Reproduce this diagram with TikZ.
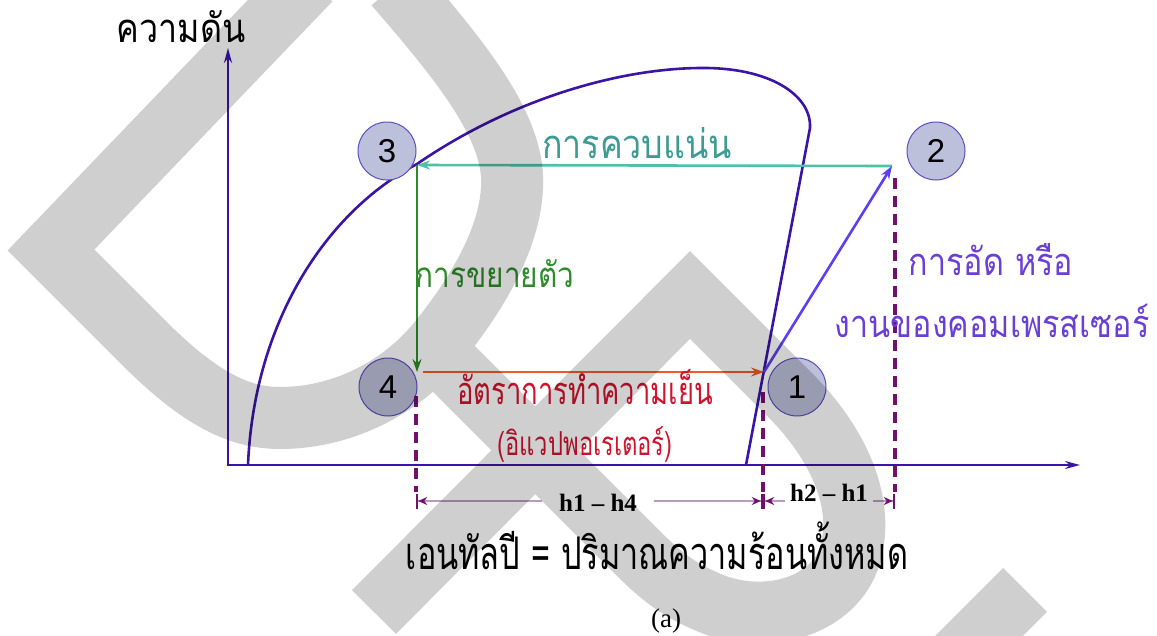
\documentclass[tikz,border=0pt]{standalone}
\usepackage{fontspec}
\setmainfont{Liberation Serif}
\setsansfont{Liberation Sans}
\newfontfamily\thaifont[Script=Thai, FakeStretch=0.85]{Loma}
\newfontfamily\thainarrow[Script=Thai, FakeStretch=0.72]{Loma}
\usetikzlibrary{arrows.meta, positioning}

\definecolor{axisblue}{HTML}{3A14A6}
\definecolor{circfill}{HTML}{BDC0DA}
\definecolor{circedge}{HTML}{5B4FBF}
\definecolor{condline}{HTML}{4DC0A6}
\definecolor{condtext}{HTML}{3E9A92}
\definecolor{expgreen}{HTML}{2E8B2A}
\definecolor{compline}{HTML}{5A40F2}
\definecolor{comptext}{HTML}{6A3FD6}
\definecolor{evapline}{HTML}{F05A28}
\definecolor{evaptext}{HTML}{D0142E}
\definecolor{dashpurple}{HTML}{72106E}
\definecolor{dimline}{HTML}{B59CC0}
\definecolor{wmgrey}{HTML}{CFCFCF}

\begin{document}
\begin{tikzpicture}[x=1pt, y=-1pt,
    axis/.style={draw=axisblue, line width=2.2pt, {Stealth[length=15pt, width=8pt]}-{Stealth[length=15pt, width=8pt]}},
    dome/.style={draw=axisblue, line width=2.6pt},
    numc/.style={circle, draw=circedge, line width=1pt, fill=circfill, minimum size=58pt,
                 inner sep=0pt, font=\sffamily\fontsize{33}{33}\selectfont},
    arr/.style={-{Stealth[length=13pt, width=9pt]}, line width=2.6pt},
    thai/.style={font=\thaifont\fontsize{#1}{#1}\selectfont, inner sep=0pt, anchor=base},
    thain/.style={font=\thainarrow\fontsize{#1}{#1}\selectfont, inner sep=0pt, anchor=base},
    dsh/.style={draw=dashpurple, line width=3.2pt, dash pattern=on 11pt off 7pt},
    dim/.style={draw=dimline, line width=1.6pt},
    tipL/.style={{Bar[width=15pt, line width=2.2pt, color=dashpurple] Stealth[length=9pt, width=8pt, color=dashpurple]}-},
    tipR/.style={-{Stealth[length=9pt, width=8pt, color=dashpurple] Bar[width=15pt, line width=2.2pt, color=dashpurple]}},
    dimlbl/.style={font=\bfseries\fontsize{25}{25}\selectfont, inner ysep=0pt},
    wm/.style={draw=wmgrey, line width=62pt, line join=miter, line cap=butt, miter limit=10}
]
\useasboundingbox (0,0) rectangle (1157,635);
\fill[white] (0,0) rectangle (1157,635);

\coordinate (o)    at (228,465);
\coordinate (ytop) at (228,48);
\coordinate (xend) at (1080,465);
\coordinate (p1) at (764,372);
\coordinate (p2) at (892,166);
\coordinate (p3) at (417,165);
\coordinate (p4) at (417,372);

\draw[axis] (ytop) -- (o) -- (xend);
\draw[dome] (248,465) .. controls (254,322) and (326,212) .. (417,164)
    .. controls (510,100) and (620,67) .. (707,68)
    .. controls (775,69) and (812,98) .. (810,128) -- (746,465);

\draw[arr, condline] (p2) -- (p3);
\draw[arr, expgreen] (p3) -- (p4);
\draw[arr, evapline, shorten <=6pt] (p4) -- (p1);
\draw[arr, compline] (p1) -- (p2);

\node[numc] (c3) at (387,151) {3};
\node[numc] (c2) at (936,151) {2};
\node[numc] (c4) at (388,387) {4};
\node[numc] (c1) at (797,387) {1};

\coordinate (d4) at (416,396);
\coordinate (d1) at (763,392);
\coordinate (d2) at (895,178);
\coordinate (m4) at (416,501);
\coordinate (m1) at (763,501);
\coordinate (m2) at (895,501);
\draw[dsh] (d4) -- ([yshift=9pt]m4);
\draw[dsh] (d1) -- ([yshift=9pt]m1);
\draw[dsh] (d2) -- ([yshift=9pt]m2);

\node[dimlbl, inner xsep=17pt] (h14) at (598,503) {h1 – h4};
\node[dimlbl, inner xsep=5pt]  (h21) at (829,493) {h2 – h1};
\draw[dim, tipL] (m4) -- (h14.west |- m4);
\draw[dim, tipR] (h14.east |- m1) -- (m1);
\draw[dim, tipL] (m1) -- (h21.west |- m1);
\draw[dim, tipR] (h21.east |- m2) -- (m2);

\node[thai=40] (pres) at (181,42) {ความดัน};
\node[thai=40, text=condtext] (cond) at (637,158) {การควบแน่น};
\node[thai=35, text=expgreen] (expn) at (495,287) {การขยายตัว};
\node[thai=38, text=comptext] (comp1) at (991,275) {การอัด หรือ};
\node[thai=38, text=comptext] (comp2) at (992,337) {งานของคอมเพรสเซอร์};
\node[thain=38, text=evaptext] (evap1) at (585,404) {อัตราการทำความเย็น};
\node[thain=33, text=evaptext] (evap2) at (585,455) {(อิแวปพอเรเตอร์)};
\node[thain=45] (enth) at (657,569) {เอนทัลปี = ปริมาณความร้อนทั้งหมด};
\node[font=\fontsize{27}{27}\selectfont, inner sep=0pt, anchor=base] (cap) at (666,627) {(a)};

\begin{scope}[blend mode=multiply]
\clip (0,0) rectangle (1157,635);
\draw[wm] (310,-20) -- (51,250) -- (140,339) .. controls (200,400) and (240,418) .. (280,418)
    .. controls (340,418) and (400,390) .. (440,340) .. controls (480,290) and (515,230) .. (512,175)
    .. controls (508,120) and (460,60) .. (395,-15)
  (374,612) -- (690,295) -- (790,395) .. controls (840,445) and (865,505) .. (850,555)
    .. controls (835,605) and (770,625) .. (715,605) .. controls (690,595) and (670,585) .. (640,555)
    -- (440,355)
  (1025,590) -- (950,665);
\end{scope}
\end{tikzpicture}
\end{document}
